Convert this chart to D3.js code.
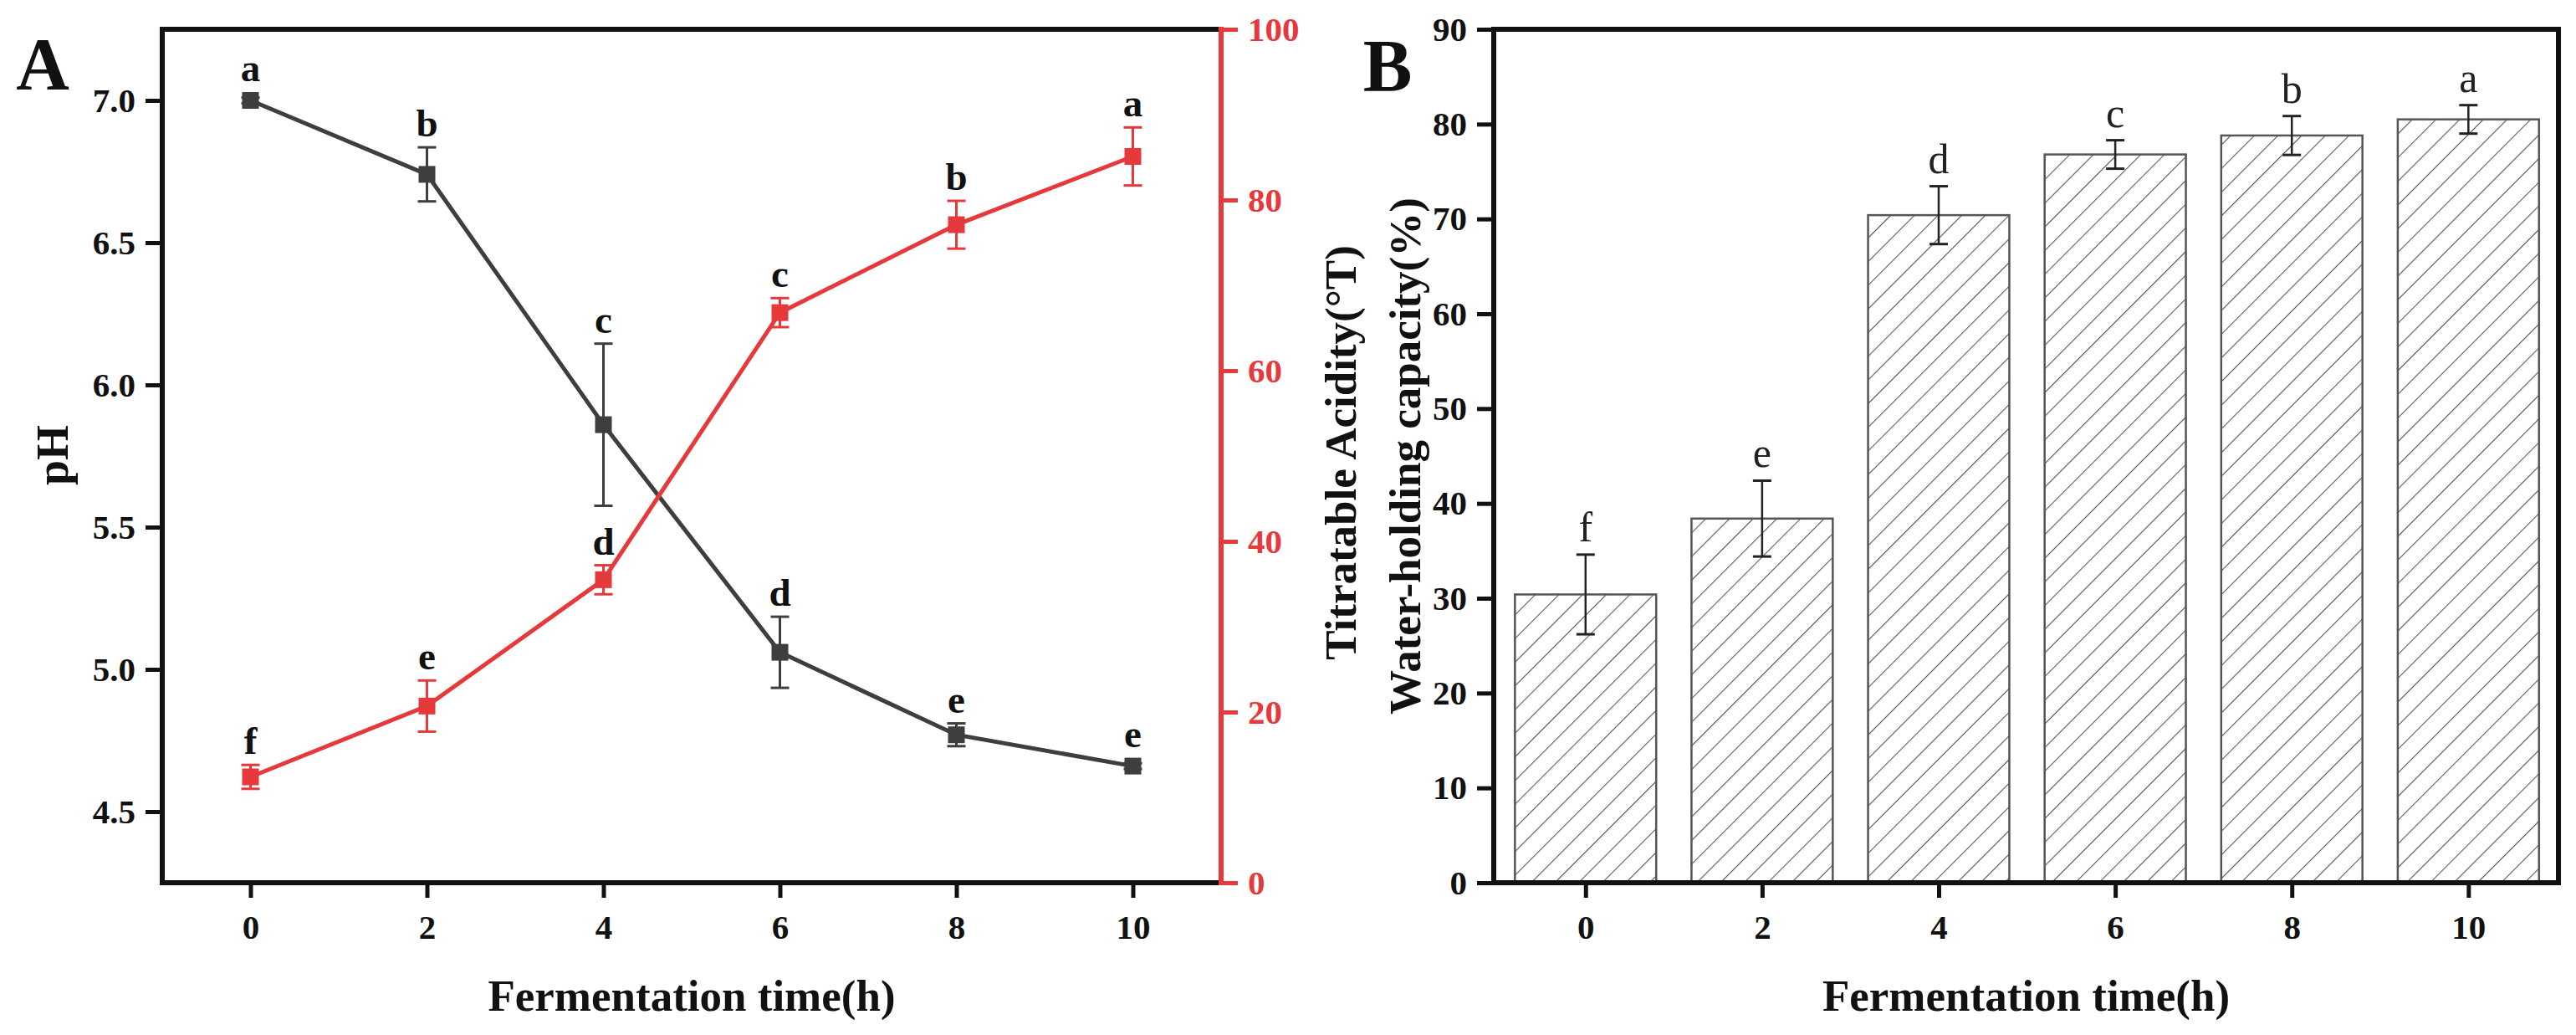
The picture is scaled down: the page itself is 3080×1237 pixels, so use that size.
<!DOCTYPE html>
<html>
<head>
<meta charset="utf-8">
<script src="https://cdn.jsdelivr.net/npm/d3@7"></script>
<style>
  html, body { margin: 0; padding: 0; background: #fff; }
  svg text { font-family: "Liberation Serif", "Times New Roman", serif; }
</style>
</head>
<body>
<svg id="chart" width="3080" height="1237"></svg>
<script>
// ---------- data ----------
const times = [0, 2, 4, 6, 8, 10];
const pH = [7.00, 6.74, 5.86, 5.06, 4.77, 4.66];
const pHErr = [0.01, 0.095, 0.285, 0.125, 0.04, 0.01];
const pHLetters = ["a", "b", "c", "d", "e", "e"];
const acidity = [12.4, 20.7, 35.5, 66.8, 77.1, 85.1];
const acidityErr = [1.4, 3.0, 1.7, 1.7, 2.8, 3.4];
const acidityLetters = ["f", "e", "d", "c", "b", "a"];
const whc = [30.4, 38.4, 70.4, 76.8, 78.8, 80.5];
const whcErr = [4.2, 4.0, 3.05, 1.5, 2.05, 1.5];
const whcLetters = ["f", "e", "d", "c", "b", "a"];
const xTicks = [0, 2, 4, 6, 8, 10];
const pHTicks = [4.5, 5.0, 5.5, 6.0, 6.5, 7.0];
const acidityTicks = [0, 20, 40, 60, 80, 100];
const whcTicks = [0, 10, 20, 30, 40, 50, 60, 70, 80, 90];

const svg = d3.select("#chart");
const GRAY = "#3e3e3e", RED = "#e6393c";
const AXW = 6;

// ---------- Panel A ----------
const A = { l: 194, r: 1460, t: 35, b: 1055 };
const xA = d3.scaleLinear().domain([-1, 11]).range([A.l, A.r]);
const yPH = d3.scaleLinear().domain([4.25, 7.25]).range([A.b, A.t]);
const yTA = d3.scaleLinear().domain([0, 100]).range([A.b, A.t]);

function styleAxis(g, color, size) {
  g.select(".domain").remove();
  g.selectAll(".tick line").attr("stroke", color).attr("stroke-width", 5);
  g.selectAll(".tick text").attr("fill", color)
    .style("font-size", size + "px").style("font-weight", "bold")
    .style("font-family", "'Liberation Serif', serif");
}

svg.append("g").attr("transform", `translate(${A.l},0)`)
  .call(d3.axisLeft(yPH).tickValues(pHTicks).tickFormat(d3.format(".1f")).tickSize(20).tickPadding(12))
  .call(g => styleAxis(g, "#111", 41));
svg.append("g").attr("transform", `translate(0,${A.b})`)
  .call(d3.axisBottom(xA).tickValues(xTicks).tickFormat(d3.format("d")).tickSize(18).tickPadding(20))
  .call(g => styleAxis(g, "#111", 41));
svg.append("g").attr("transform", `translate(${A.r},0)`)
  .call(d3.axisRight(yTA).tickValues(acidityTicks).tickFormat(d3.format("d")).tickSize(20).tickPadding(12))
  .call(g => styleAxis(g, RED, 41));

// frame
svg.append("path").attr("d", `M${A.r},${A.t}H${A.l}V${A.b}H${A.r}`)
  .attr("fill", "none").attr("stroke", "#111").attr("stroke-width", AXW).attr("stroke-linecap", "square");
svg.append("line").attr("x1", A.r).attr("x2", A.r).attr("y1", A.t).attr("y2", A.b)
  .attr("stroke", RED).attr("stroke-width", AXW).attr("stroke-linecap", "square");

function drawSeries(vals, errs, letters, yS, color) {
  const g = svg.append("g");
  const pts = times.map((t, i) => ({ t, v: vals[i], e: errs[i], L: letters[i] }));
  g.append("path").datum(pts)
    .attr("d", d3.line().x(d => xA(d.t)).y(d => yS(d.v)))
    .attr("fill", "none").attr("stroke", color).attr("stroke-width", 5);
  const eb = g.selectAll(".eb").data(pts).enter().append("g");
  eb.append("line").attr("x1", d => xA(d.t)).attr("x2", d => xA(d.t))
    .attr("y1", d => yS(d.v + d.e)).attr("y2", d => yS(d.v - d.e))
    .attr("stroke", color).attr("stroke-width", 3);
  [1, -1].forEach(s => {
    eb.append("line").attr("x1", d => xA(d.t) - 11).attr("x2", d => xA(d.t) + 11)
      .attr("y1", d => yS(d.v + s * d.e)).attr("y2", d => yS(d.v + s * d.e))
      .attr("stroke", color).attr("stroke-width", 3);
  });
  g.selectAll(".mk").data(pts).enter().append("rect")
    .attr("x", d => xA(d.t) - 10).attr("y", d => yS(d.v) - 10)
    .attr("width", 20).attr("height", 20).attr("fill", color);
  g.selectAll(".lb").data(pts).enter().append("text")
    .attr("x", d => xA(d.t)).attr("y", d => Math.min(yS(d.v + d.e), yS(d.v) - 10) - 13)
    .attr("text-anchor", "middle").style("font-size", "47px").style("font-weight", "bold")
    .attr("fill", "#111").text(d => d.L);
}
drawSeries(pH, pHErr, pHLetters, yPH, GRAY);
drawSeries(acidity, acidityErr, acidityLetters, yTA, RED);

// ---------- Panel B ----------
const B = { l: 1786, r: 3059, t: 35, b: 1055 };
const xB = d3.scaleLinear().domain([-1.04, 11.02]).range([B.l, B.r]);
const yB = d3.scaleLinear().domain([0, 90]).range([B.b, B.t]);
const barW = xB(1.6) - xB(0);

const defs = svg.append("defs");
const pat = defs.append("pattern").attr("id", "hatch").attr("patternUnits", "userSpaceOnUse")
  .attr("width", 20).attr("height", 20).attr("patternTransform", "rotate(45)");
pat.append("rect").attr("width", 20).attr("height", 20).attr("fill", "#fff");
pat.append("line").attr("x1", 0).attr("x2", 0).attr("y1", 0).attr("y2", 20)
  .attr("stroke", "#555").attr("stroke-width", 2.2);

const bars = times.map((t, i) => ({ t, v: whc[i], e: whcErr[i], L: whcLetters[i] }));
const gb = svg.append("g");
gb.selectAll("rect").data(bars).enter().append("rect")
  .attr("x", d => xB(d.t) - barW / 2).attr("y", d => yB(d.v))
  .attr("width", barW).attr("height", d => yB(0) - yB(d.v))
  .attr("fill", "url(#hatch)").attr("stroke", "#555").attr("stroke-width", 2.5);
const ebB = gb.selectAll(".eb").data(bars).enter().append("g");
ebB.append("line").attr("x1", d => xB(d.t)).attr("x2", d => xB(d.t))
  .attr("y1", d => yB(d.v + d.e)).attr("y2", d => yB(d.v - d.e))
  .attr("stroke", "#222").attr("stroke-width", 2.5);
[1, -1].forEach(s => {
  ebB.append("line").attr("x1", d => xB(d.t) - 11).attr("x2", d => xB(d.t) + 11)
    .attr("y1", d => yB(d.v + s * d.e)).attr("y2", d => yB(d.v + s * d.e))
    .attr("stroke", "#222").attr("stroke-width", 3);
});
gb.selectAll(".lb").data(bars).enter().append("text")
  .attr("x", d => xB(d.t)).attr("y", d => yB(d.v + d.e) - 16)
  .attr("text-anchor", "middle").style("font-size", "50px").attr("fill", "#222").text(d => d.L);

svg.append("g").attr("transform", `translate(${B.l},0)`)
  .call(d3.axisLeft(yB).tickValues(whcTicks).tickFormat(d3.format("d")).tickSize(20).tickPadding(12))
  .call(g => styleAxis(g, "#111", 41));
svg.append("g").attr("transform", `translate(0,${B.b})`)
  .call(d3.axisBottom(xB).tickValues(xTicks).tickFormat(d3.format("d")).tickSize(18).tickPadding(20))
  .call(g => styleAxis(g, "#111", 41));
svg.append("rect").attr("x", B.l).attr("y", B.t).attr("width", B.r - B.l).attr("height", B.b - B.t)
  .attr("fill", "none").attr("stroke", "#111").attr("stroke-width", AXW);

// ---------- titles ----------
function title(x, y, txt, size, rot) {
  svg.append("text").attr("transform", `translate(${x},${y})` + (rot ? " rotate(-90)" : ""))
    .attr("text-anchor", "middle").attr("dy", rot ? "0.35em" : 0)
    .style("font-size", size + "px").style("font-weight", "bold").attr("fill", "#111").text(txt);
}
title((A.l + A.r) / 2, 1208, "Fermentation time(h)", 53, false);
title((B.l + B.r) / 2, 1208, "Fermentation time(h)", 53, false);
title(62, 544, "pH", 54, true);
title(1602, 541, "Titratable Acidity(°T)", 53, true);
title(1679, 545, "Water-holding capacity(%)", 53, true);
title(51, 106, "A", 88, false);
title(1659, 108, "B", 88, false);
</script>
</body>
</html>
